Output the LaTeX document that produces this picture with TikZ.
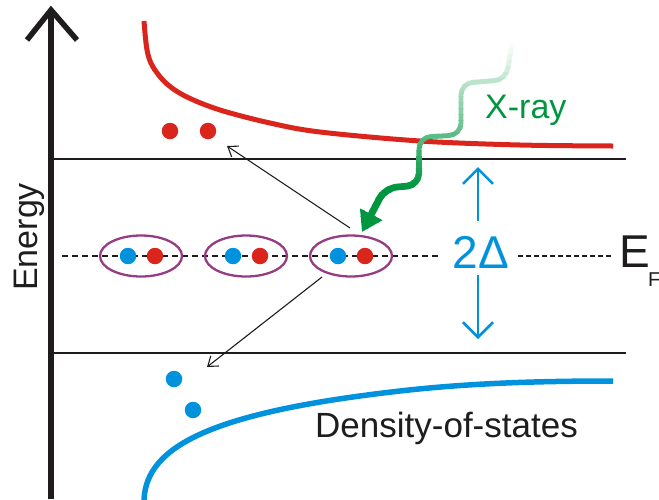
\documentclass[tikz,border=0pt]{standalone}
\usepackage{fontspec}
\setmainfont{Liberation Sans}
\usetikzlibrary{arrows.meta,shapes.geometric,calc}
\definecolor{dred}{RGB}{218,37,29}
\definecolor{dblue}{RGB}{0,146,221}
\definecolor{xgreen}{RGB}{0,150,64}
\definecolor{pairpurple}{RGB}{150,60,130}
\definecolor{ink}{RGB}{30,28,28}
\begin{document}
\begin{tikzpicture}[x=1pt,y=-1pt,
  axisline/.style={line width=5.5pt,ink,line join=miter},
  levelline/.style={line width=2pt,ink},
  reddot/.style={circle,fill=dred,inner sep=0pt,minimum size=16.5pt},
  bluedot/.style={circle,fill=dblue,inner sep=0pt,minimum size=16.5pt},
  pairell/.style={ellipse,draw=pairpurple,line width=2.3pt,minimum width=82pt,minimum height=41pt,inner sep=0pt},
  thinarrow/.style={line width=1.1pt,ink,-{Straight Barb[length=9pt,width=13pt]}},
  gaparrow/.style={line width=2.5pt,dblue,-{Straight Barb[length=15pt,width=30pt]}},
  lbl/.style={inner sep=0pt,text=ink,font=\fontsize{34}{40}\selectfont},
  fermidash/.style={line width=2pt,ink,dash pattern=on 6pt off 4pt},
  fermidashthin/.style={line width=1.5pt,ink,dash pattern=on 5pt off 3pt}
]
\useasboundingbox (0,0) rectangle (659,499);

% energy axis
\coordinate (axbot) at (51,499);
\coordinate (axtop) at (51,10);
\draw[axisline] (axbot) -- (axtop);
\draw[axisline] ($(axtop)+(-24,30)$) -- (axtop) -- ($(axtop)+(26,30)$);
\node[lbl, rotate=90, anchor=base west] (energy) at (37,291) {Energy};

% gap edges
\coordinate (topL) at (51,159);
\coordinate (topR) at (626,159);
\coordinate (botL) at (51,353);
\coordinate (botR) at (626,353);
\draw[levelline] (topL) -- (topR);
\draw[levelline] (botL) -- (botR);

% Fermi level
\coordinate (fL) at (62,256);
\coordinate (fM) at (438,256);
\coordinate (fN) at (518,256);
\coordinate (fR) at (613,256);
\draw[fermidash] (fL) -- (fM);
\draw[fermidashthin] (fN) -- (fR);

% density of states curves
\draw[dred, line width=5pt] plot[smooth, tension=0.55] coordinates
  {(144,21) (147,50) (153,67) (167,84) (187,97) (220,110) (270,123) (320,132) (420,141) (520,145) (613,146)};
\coordinate (bc0) at (144,500);
\coordinate (bc1) at (400,391);
\coordinate (bc2) at (613,381);
\draw[dblue, line width=5.5pt] (bc0) .. controls (146,445) and (215,412) .. (bc1)
  .. controls (470,383) and (540,381) .. (bc2);

% Cooper pairs
\node[pairell] (p1) at (141,256) {};
\node[pairell] (p2) at (246,256) {};
\node[pairell] (p3) at (351,256) {};
\node[bluedot] (b1) at (128,256) {};
\node[reddot] (r1) at (155,256) {};
\node[bluedot] (b2) at (233,256) {};
\node[reddot] (r2) at (260,256) {};
\node[bluedot] (b3) at (338,256) {};
\node[reddot] (r3) at (365,256) {};

% excited quasiparticles
\node[reddot] (q1) at (170,131) {};
\node[reddot] (q2) at (208,131) {};
\node[bluedot] (q3) at (174,379) {};
\node[bluedot] (q4) at (193,410) {};

% breaking arrows
\coordinate (a1s) at (350,228);
\coordinate (a1e) at (227,146);
\coordinate (a2s) at (322,277);
\coordinate (a2e) at (207,367);
\draw[thinarrow] (a1s) -- (a1e);
\draw[thinarrow] (a2s) -- (a2e);

% X-ray photon (fading wave)
\coordinate (xr0) at (512,44);
\coordinate (xr1) at (506,80);
\coordinate (xr2) at (461,83);
\coordinate (xr3) at (461,135);
\coordinate (xr4) at (419,137);
\coordinate (xr5) at (419,185);
\coordinate (xr6) at (385,188);
\coordinate (xr7) at (362,232);
\foreach \i in {0,...,34}{
  \pgfmathsetmacro{\ya}{42+6*\i}
  \pgfmathsetmacro{\yb}{\ya+6.6}
  \pgfmathsetmacro{\pc}{max(3,min(100,3+(\ya+3-48)*0.7))}
  \pgfmathsetmacro{\lw}{min(7,max(4.8,4.8+(\ya-140)*0.045))}
  \begin{scope}
    \clip (0,\ya) rectangle (659,\yb);
    \draw[xgreen!\pc!white, line width=\lw pt, rounded corners=12pt,
          -{Triangle[length=20pt,width=24pt]}]
      (xr0) -- (xr1) -- (xr2) -- (xr3) -- (xr4) -- (xr5) -- (xr6) -- (xr7);
  \end{scope}
}
\node[lbl, text=xgreen, anchor=base west] (xray) at (485,118) {X-ray};

% gap
\node[inner sep=0pt, text=dblue, font=\fontsize{46}{50}\selectfont, anchor=base] (gap) at (481,268) {2Δ};
\coordinate (gu0) at (478,221);
\coordinate (gu1) at (478,167);
\coordinate (gd0) at (478,275);
\coordinate (gd1) at (478,339);
\draw[gaparrow] (gu0) -- (gu1);
\draw[gaparrow] (gd0) -- (gd1);

% Fermi label
\node[inner sep=0pt, text=ink, font=\fontsize{46}{50}\selectfont, anchor=base west] (ef) at (619,267) {E};
\node[inner sep=0pt, text=ink, font=\fontsize{20}{24}\selectfont, anchor=base west] (efsub) at (648,286) {F};

\node[inner sep=0pt, text=ink, font=\fontsize{35}{40}\selectfont, anchor=base west] (dos) at (315,437) {Density-of-states};
\end{tikzpicture}
\end{document}
